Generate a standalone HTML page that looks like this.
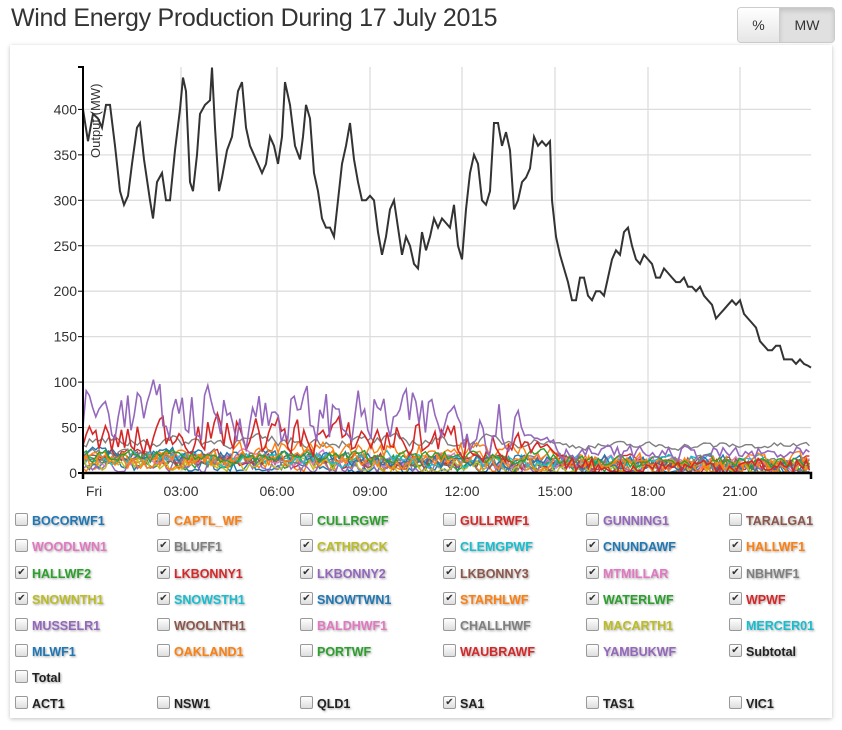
<!DOCTYPE html>
<html><head><meta charset="utf-8"><style>
body{margin:0;width:842px;height:730px;background:#fff;font-family:"Liberation Sans",Arial,sans-serif;overflow:hidden;position:relative}
h1{position:absolute;left:11px;top:4px;margin:0;font-weight:normal;font-size:25px;color:#333;letter-spacing:-0.3px}
.btns{position:absolute;left:737px;top:7px;height:34px;display:flex;border:1px solid #ccc;border-radius:4px;overflow:hidden}
.btns div{font-size:14px;color:#333;line-height:34px;text-align:center;background:linear-gradient(#fff,#e6e6e6)}
.btns .a{background:#e0e0e0;box-shadow:inset 0 3px 5px rgba(0,0,0,.125);border-left:1px solid #ccc}
.panel{position:absolute;left:10px;top:45px;width:822px;height:673px;background:#fff;box-shadow:0 1px 4px rgba(0,0,0,.25)}
svg{position:absolute;left:0;top:0}
.lg{position:absolute;font-size:12.5px;font-weight:bold;text-shadow:1px 1px 2px rgba(0,0,0,.35)}
.cb{position:absolute;width:11px;height:11px;border:1px solid #999;border-radius:2px;background:linear-gradient(#fff,#ddd);font-size:10px;line-height:11px;text-align:center;color:#333}
</style></head><body>
<h1>Wind Energy Production During 17 July 2015</h1>
<div class="btns"><div style="width:41px">%</div><div class="a" style="width:54px">MW</div></div>
<div class="panel"></div>
<svg width="842" height="730" id="s"></svg>
<div id="lg"></div>
<script>
var s=document.getElementById('s'),h='';
function Y(v){return 473-v*0.909}
[181,277,370,462,555,648,740].forEach(function(x){h+='<line x1="'+x+'" y1="67" x2="'+x+'" y2="473" stroke="#ddd" stroke-width="1.3"/>'});
for(var v=50;v<=400;v+=50){h+='<line x1="83" y1="'+Y(v)+'" x2="811" y2="'+Y(v)+'" stroke="#ddd" stroke-width="1.3"/>';}
for(var v=0;v<=400;v+=50){h+='<text x="77" y="'+(Y(v)+5)+'" text-anchor="end" font-size="14" fill="#333">'+v+'</text><line x1="78" x2="83" y1="'+Y(v)+'" y2="'+Y(v)+'" stroke="#000"/>';}
var xl=[[94,'Fri'],[181,'03:00'],[277,'06:00'],[370,'09:00'],[462,'12:00'],[555,'15:00'],[648,'18:00'],[740,'21:00']];
xl.forEach(function(a){h+='<text x="'+a[0]+'" y="496" text-anchor="middle" font-size="14" fill="#333">'+a[1]+'</text>'});
var sd=7;function R(){sd=(sd*16807)%2147483647;return sd/2147483647}
var cols=['#1f77b4','#ff7f0e','#2ca02c','#d62728','#9467bd','#8c564b','#e377c2','#7f7f7f','#bcbd22','#17becf'];
function series(prof,amp,col,w,sm){sm=sm==null?0.5:sm;var p='',v=prof(0);for(var x=83;x<=811;x+=3.2){var t=(x-83)/728;var b=prof(t);var a=typeof amp=='function'?amp(t):amp;v=v*sm+(1-sm)*(b+(R()-0.5)*a);if(v<0)v=R()*2;p+=x.toFixed(1)+','+Y(v).toFixed(1)+' ';}h+='<polyline points="'+p+'" fill="none" stroke="'+col+'" stroke-width="'+(w||1.4)+'"/>';}
for(var i=0;i<12;i++){var c=cols[i%10];var base=8+R()*14;(function(b){series(function(t){return b*(1-0.5*t)},26,c,1.4,0.45)})(base);}
series(function(t){return t<0.65?35:30},function(t){return t<0.6?22:14},'#7f7f7f',1.4,0.5);
series(function(t){return t<0.2?15:t<0.65?25:12},30,'#ff7f0e',1.4,0.4);
series(function(t){return t<0.65?18:12},22,'#2ca02c',1.4,0.45);
series(function(t){return t<0.1?35:t<0.55?48-25*t:t<0.65?25:8},function(t){return t<0.6?55:25},'#d62728',1.6,0.3);
series(function(t){return t<0.6?68-20*t:t<0.65?40:28-8*t},function(t){return t<0.6?85:22},'#9467bd',1.6,function(){return 0.3}());
var k=[83,400,88,365,93,395,98,390,102,380,106,405,110,405,115,360,120,310,124,295,128,305,132,340,137,380,140,385,144,345,150,300,153,280,157,320,162,330,166,300,170,300,175,355,180,400,183,435,186,420,190,320,193,310,197,350,200,395,205,405,210,410,212,446,215,380,219,310,222,325,227,355,232,370,235,395,238,420,242,430,246,380,250,360,254,350,258,340,262,330,266,340,270,370,274,360,278,340,282,370,285,430,290,405,295,360,300,345,303,370,306,405,310,390,314,330,318,310,322,280,326,270,330,270,334,260,338,300,342,340,346,360,350,385,354,345,358,320,362,300,366,300,370,305,374,300,378,265,382,240,386,260,390,290,394,300,398,270,402,240,406,260,410,250,414,230,418,225,422,265,426,245,430,260,434,280,438,270,442,280,446,275,450,270,454,295,458,250,462,235,466,290,470,330,474,350,478,340,482,300,486,295,490,310,494,385,498,385,502,360,506,375,510,355,514,290,518,300,522,320,526,325,530,335,534,370,538,360,542,365,546,360,550,365,552,300,556,260,560,240,564,225,568,210,572,190,576,190,580,215,584,215,588,195,592,190,596,200,600,200,604,195,608,215,612,235,616,245,620,240,624,265,628,270,632,250,636,235,640,230,644,240,648,235,652,230,656,215,660,215,664,225,668,220,672,215,676,210,680,210,684,215,688,205,692,205,696,200,700,205,704,195,708,190,712,185,716,170,720,175,724,180,728,185,732,190,736,185,740,190,744,175,748,170,752,165,756,160,760,145,764,140,768,135,772,135,776,140,780,140,784,125,788,125,792,125,796,120,800,125,804,120,808,118,811,116];
var p='';for(var i=0;i<k.length;i+=2)p+=k[i]+','+Y(k[i+1]).toFixed(1)+' ';
h+='<polyline points="'+p+'" fill="none" stroke="#333" stroke-width="2"/>';
h+='<path d="M78,67H83V473H78" fill="none" stroke="#000" stroke-width="2"/>';
h+='<path d="M83,479V473H811V479" fill="none" stroke="#000" stroke-width="2.5"/>';
h+='<text transform="translate(100,158) rotate(-90)" font-size="13" fill="#333">Output (MW)</text>';
s.innerHTML=h;
var L=[['BOCORWF1',0,0],['CAPTL_WF',1,0],['CULLRGWF',2,0],['GULLRWF1',3,0],['GUNNING1',4,0],['TARALGA1',5,0],
['WOODLWN1',6,0],['BLUFF1',7,1],['CATHROCK',8,1],['CLEMGPWF',9,1],['CNUNDAWF',0,1],['HALLWF1',1,1],
['HALLWF2',2,1],['LKBONNY1',3,1],['LKBONNY2',4,1],['LKBONNY3',5,1],['MTMILLAR',6,1],['NBHWF1',7,1],
['SNOWNTH1',8,1],['SNOWSTH1',9,1],['SNOWTWN1',0,1],['STARHLWF',1,1],['WATERLWF',2,1],['WPWF',3,1],
['MUSSELR1',4,0],['WOOLNTH1',5,0],['BALDHWF1',6,0],['CHALLHWF',7,0],['MACARTH1',8,0],['MERCER01',9,0],
['MLWF1',0,0],['OAKLAND1',1,0],['PORTWF',2,0],['WAUBRAWF',3,0],['YAMBUKWF',4,0],['Subtotal',-1,1],
['Total',-1,0],null,null,null,null,null,
['ACT1',-2,0],['NSW1',-2,0],['QLD1',-2,0],['SA1',-2,1],['TAS1',-2,0],['VIC1',-2,0]];
var ys=[522,548,575,601,627,653,679,705],xs=[15,157,300,443,586,729],g='';
L.forEach(function(e,i){if(!e)return;var r=Math.floor(i/6),c=i%6;var x=xs[c],y=ys[r];
var col=e[1]>=0?cols[e[1]]:'#222';
g+='<div class="cb" style="left:'+x+'px;top:'+(y-9)+'px">'+(e[2]?'✔':'')+'</div>';
g+='<div class="lg" style="left:'+(x+17)+'px;top:'+(y-8)+'px;color:'+col+'">'+e[0]+'</div>';});
document.getElementById('lg').innerHTML=g;
</script>
</body></html>
